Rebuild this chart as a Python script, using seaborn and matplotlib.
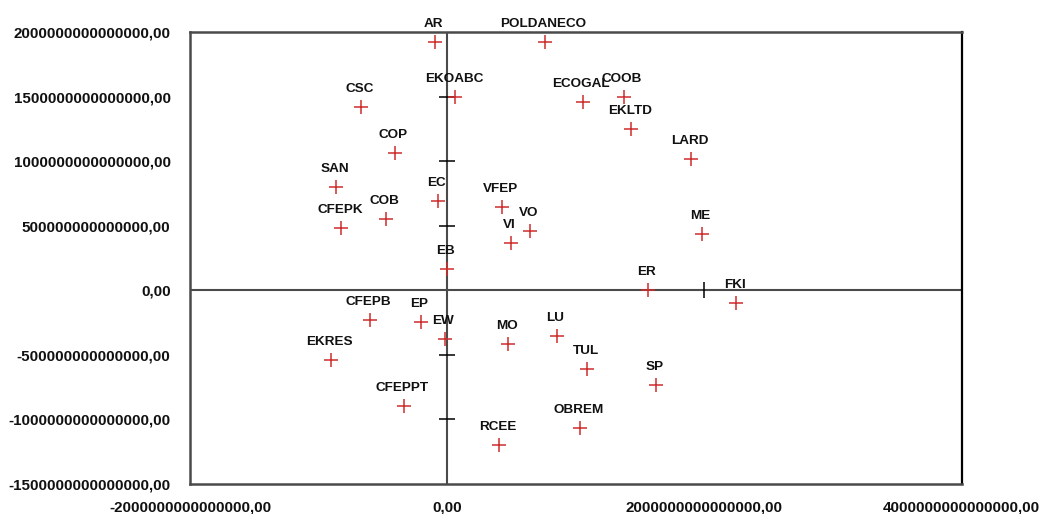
import numpy as np
import pandas as pd
import matplotlib
matplotlib.use("Agg")
import matplotlib.pyplot as plt
from matplotlib.ticker import FuncFormatter
import seaborn as sns

# Point names and coordinates (in units of 1e15)
names = ["AR", "POLDANECO", "EKOABC", "CSC", "ECOGAL", "COOB", "EKLTD", "COP",
         "LARD", "SAN", "EC", "VFEP", "COB", "CFEPK", "VO", "ME", "VI", "EB",
         "ER", "FKI", "CFEPB", "EP", "EW", "LU", "MO", "EKRES", "TUL", "SP",
         "CFEPPT", "OBREM", "RCEE"]
x_vals = [-0.093, 0.757, 0.062, -0.671, 1.052, 1.371, 1.431, -0.410,
          1.897, -0.863, -0.072, 0.425, -0.480, -0.824, 0.640, 1.981, 0.495, 0.000,
          1.561, 2.245, -0.604, -0.205, -0.021, 0.853, 0.472, -0.906, 1.086, 1.623,
          -0.339, 1.034, 0.404]
y_vals = [1.926, 1.926, 1.500, 1.418, 1.461, 1.500, 1.249, 1.066,
          1.015, 0.802, 0.692, 0.648, 0.552, 0.485, 0.462, 0.434, 0.364, 0.163,
          0.000, -0.101, -0.230, -0.248, -0.377, -0.354, -0.418, -0.540, -0.612, -0.731,
          -0.894, -1.064, -1.198]
scale = 1e15

x_ticks = [-2e15, 0.0, 2e15, 4e15]
y_ticks = [-1.5e15, -1e15, -0.5e15, 0.0, 0.5e15, 1e15, 1.5e15, 2e15]

df = pd.DataFrame({
    "name": names,
    "x": np.array(x_vals) * scale,
    "y": np.array(y_vals) * scale,
})

sns.set_style("white")
plt.rcParams["font.family"] = ["Liberation Sans", "DejaVu Sans"]

fig = plt.figure(figsize=(10.4, 5.14), dpi=100)
ax = fig.add_axes([0.1827, 0.0584, 0.7420, 0.8793])

axis_col = "#4a4a4a"

# Zero lines through the origin
ax.axhline(0, color=axis_col, lw=1.5, zorder=1)
ax.axvline(0, color=axis_col, lw=1.5, zorder=1)

# Small cross ticks on the zero lines
inner_y = [t for t in y_ticks if t not in (0.0, y_ticks[0], y_ticks[-1])]
ax.plot(np.zeros(len(inner_y)), inner_y, ls="none", marker="_", ms=11,
        mew=1.1, color="black", zorder=1)
inner_x = [t for t in x_ticks if t not in (0.0, x_ticks[0], x_ticks[-1])]
ax.plot(inner_x, np.zeros(len(inner_x)), ls="none", marker="|", ms=11,
        mew=1.1, color="black", zorder=1)

sns.scatterplot(data=df, x="x", y="y", marker="+", s=90, color="#d02c2c",
                linewidth=1.1, ax=ax, zorder=3, legend=False)

for _, r in df.iterrows():
    ax.annotate(r["name"], (r["x"], r["y"]), xytext=(-1, 13),
                textcoords="offset points", ha="center", va="center",
                fontsize=9.7, fontweight="bold", color="#111111", zorder=4)

ax.set_xlim(x_ticks[0], x_ticks[-1])
ax.set_ylim(y_ticks[0], y_ticks[-1])
ax.set_xticks(x_ticks)
ax.set_yticks(y_ticks)

fmt = FuncFormatter(lambda v, p: f"{v:.2f}".replace(".", ",").replace("-0,00", "0,00"))
ax.xaxis.set_major_formatter(fmt)
ax.yaxis.set_major_formatter(fmt)

ax.tick_params(axis="y", direction="out", length=7, width=1.1, color="black",
               labelsize=10.9, pad=7)
ax.tick_params(axis="x", direction="inout", length=12, width=1.1, color="black",
               labelsize=10.9, pad=6)
for lab in ax.get_xticklabels() + ax.get_yticklabels():
    lab.set_fontweight("bold")
    lab.set_color("#111111")

for side in ["left", "top", "bottom"]:
    ax.spines[side].set_color(axis_col)
    ax.spines[side].set_linewidth(1.8)
ax.spines["right"].set_color("black")
ax.spines["right"].set_linewidth(1.6)

ax.set_xlabel("")
ax.set_ylabel("")
ax.grid(False)

fig.savefig("out.png", dpi=100, facecolor="white")
